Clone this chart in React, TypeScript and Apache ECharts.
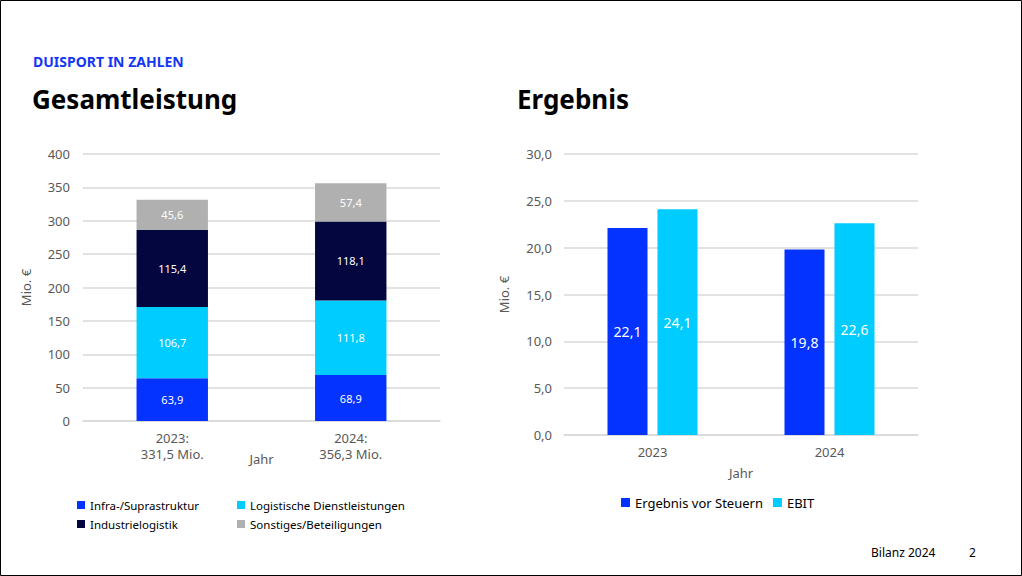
import React, { useEffect, useRef } from "react";
import * as echarts from "echarts";

const years = ["2023", "2024"];
const totals = [331.5, 356.3];
const infra = [63.9, 68.9];
const logistik = [106.7, 111.8];
const industrie = [115.4, 118.1];
const sonstiges = [45.6, 57.4];
const leftTicks = { min: 0, max: 400, interval: 50 };

const ergebnisVorSteuern = [22.1, 19.8];
const ebit = [24.1, 22.6];
const rightTicks = { min: 0, max: 30, interval: 5 };

const C_INFRA = "#0432ff";
const C_LOG = "#00ccff";
const C_IND = "#03063f";
const C_SON = "#b0b0b0";

const FONT = "'Noto Sans', 'Open Sans', sans-serif";
const fmt1 = (v: number) => v.toFixed(1).replace(".", ",");

export default function App() {
  const ref = useRef<HTMLDivElement>(null);
  useEffect(() => {
    if (!ref.current) return;
    const chart = echarts.init(ref.current, undefined, { renderer: "svg" });
    const axisLabel = { color: "#595959", fontSize: 13, fontFamily: FONT };
    const splitLine = { show: true, lineStyle: { color: "#d9d9d9", width: 1.5 } };
    const stackLabel = {
      show: true,
      position: "inside",
      color: "#ffffff",
      fontSize: 11,
      fontFamily: FONT,
      formatter: (p: any) => fmt1(p.value),
    };
    const barLabel = {
      show: true,
      position: "inside",
      color: "#ffffff",
      fontSize: 14,
      fontFamily: FONT,
      formatter: (p: any) => fmt1(p.value),
    };
    const legendText = { color: "#000000", fontSize: 11.5, fontFamily: FONT };
    const nameStyle = { color: "#595959", fontSize: 13, fontFamily: FONT };
    chart.setOption({
      animation: false,
      backgroundColor: "#ffffff",
      textStyle: { fontFamily: FONT },
      grid: [
        { left: 83, right: 582, top: 154, bottom: 155 },
        { left: 564, right: 104, top: 154, bottom: 141 },
      ],
      xAxis: [
        {
          type: "category",
          gridIndex: 0,
          data: years,
          axisTick: { show: false },
          axisLine: { show: true, lineStyle: { color: "#d9d9d9", width: 1.5 } },
          axisLabel: {
            ...axisLabel,
            lineHeight: 16,
            margin: 9,
            formatter: (v: string, i: number) => `${v}:\n${fmt1(totals[i])} Mio.`,
          },
          name: "Jahr",
          nameLocation: "middle",
          nameGap: 31,
          nameMoveOverlap: false,
          nameTextStyle: nameStyle,
        },
        {
          type: "category",
          gridIndex: 1,
          data: years,
          axisTick: { show: false },
          axisLine: { show: true, lineStyle: { color: "#d9d9d9", width: 1.5 } },
          axisLabel: { ...axisLabel, margin: 10 },
          name: "Jahr",
          nameLocation: "middle",
          nameGap: 31,
          nameMoveOverlap: false,
          nameTextStyle: nameStyle,
        },
      ],
      yAxis: [
        {
          type: "value",
          gridIndex: 0,
          ...leftTicks,
          axisLabel: { ...axisLabel, margin: 13 },
          splitLine,
          axisLine: { show: false },
          axisTick: { show: false },
          name: "Mio. €",
          nameLocation: "middle",
          nameRotate: 90,
          nameGap: 51,
          nameTextStyle: nameStyle,
        },
        {
          type: "value",
          gridIndex: 1,
          ...rightTicks,
          axisLabel: { ...axisLabel, margin: 12, formatter: (v: number) => fmt1(v) },
          splitLine,
          axisLine: { show: false },
          axisTick: { show: false },
          name: "Mio. €",
          nameLocation: "middle",
          nameRotate: 90,
          nameGap: 54,
          nameTextStyle: nameStyle,
        },
      ],
      legend: [
        {
          orient: "vertical",
          left: 72,
          top: 494,
          icon: "rect",
          itemWidth: 8,
          itemHeight: 8,
          itemGap: 7,
          textStyle: legendText,
          data: ["Infra-/Suprastruktur", "Industrielogistik"],
        },
        {
          orient: "vertical",
          left: 232,
          top: 494,
          icon: "rect",
          itemWidth: 8,
          itemHeight: 8,
          itemGap: 7,
          textStyle: legendText,
          data: ["Logistische Dienstleistungen", "Sonstiges/Beteiligungen"],
        },
        {
          orient: "horizontal",
          left: 616,
          top: 491,
          icon: "rect",
          itemWidth: 9,
          itemHeight: 9,
          itemGap: 10,
          textStyle: { ...legendText, fontSize: 13 },
          data: ["Ergebnis vor Steuern", "EBIT"],
        },
      ],
      series: [
        { name: "Infra-/Suprastruktur", type: "bar", stack: "a", xAxisIndex: 0, yAxisIndex: 0, barWidth: "40%", data: infra, itemStyle: { color: C_INFRA }, label: stackLabel },
        { name: "Logistische Dienstleistungen", type: "bar", stack: "a", xAxisIndex: 0, yAxisIndex: 0, barWidth: "40%", data: logistik, itemStyle: { color: C_LOG }, label: stackLabel },
        { name: "Industrielogistik", type: "bar", stack: "a", xAxisIndex: 0, yAxisIndex: 0, barWidth: "40%", data: industrie, itemStyle: { color: C_IND }, label: stackLabel },
        { name: "Sonstiges/Beteiligungen", type: "bar", stack: "a", xAxisIndex: 0, yAxisIndex: 0, barWidth: "40%", data: sonstiges, itemStyle: { color: C_SON }, label: stackLabel },
        { name: "Ergebnis vor Steuern", type: "bar", xAxisIndex: 1, yAxisIndex: 1, barWidth: 40, barGap: "25%", data: ergebnisVorSteuern, itemStyle: { color: C_INFRA }, label: barLabel },
        { name: "EBIT", type: "bar", xAxisIndex: 1, yAxisIndex: 1, barWidth: 40, barGap: "25%", data: ebit, itemStyle: { color: C_LOG }, label: barLabel },
      ],
      graphic: [
        { type: "rect", shape: { x: 0.5, y: 0.5, width: 1021, height: 575 }, style: { fill: "none", stroke: "#000000", lineWidth: 1 }, silent: true },
        { type: "text", left: 33, top: 54, style: { text: "DUISPORT IN ZAHLEN", fill: "#1436f5", fontSize: 14, fontWeight: "bold", fontFamily: FONT } },
        { type: "text", left: 32, top: 86, style: { text: "Gesamtleistung", fill: "#000000", fontSize: 26, fontWeight: "bold", fontFamily: FONT } },
        { type: "text", left: 517, top: 86, style: { text: "Ergebnis", fill: "#000000", fontSize: 26, fontWeight: "bold", fontFamily: FONT } },
        { type: "text", left: 871, top: 546, style: { text: "Bilanz 2024", fill: "#000000", fontSize: 12, fontFamily: FONT } },
        { type: "text", left: 969, top: 546, style: { text: "2", fill: "#000000", fontSize: 12, fontFamily: FONT } },
      ],
    });
    return () => chart.dispose();
  }, []);
  return (
    <div
      ref={ref}
      style={{ position: "fixed", left: 0, top: 0, width: 1022, height: 576 }}
    />
  );
}
